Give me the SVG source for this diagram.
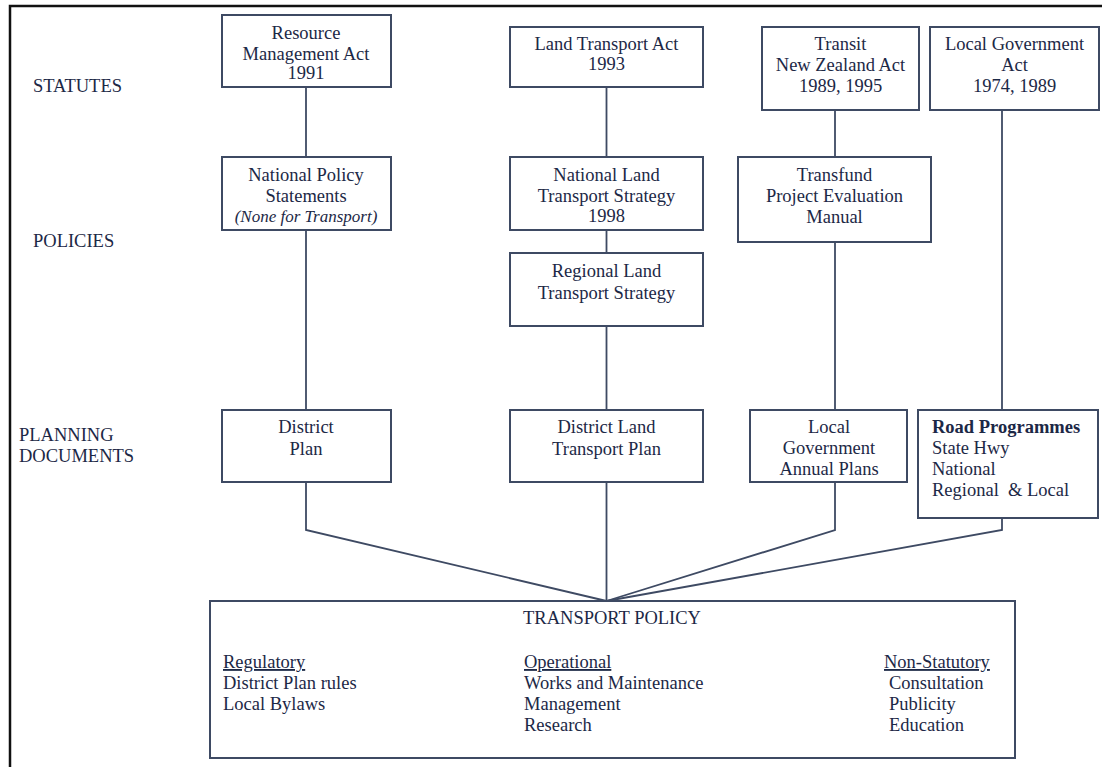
<svg xmlns="http://www.w3.org/2000/svg" width="1102" height="767" viewBox="0 0 1102 767">
  <style>
    .box { fill: #ffffff; stroke: #3e4a63; stroke-width: 2; }
    .wire { fill: none; stroke: #3e4a63; stroke-width: 1.8; }
    text { font-family: "Liberation Serif", "Times New Roman", serif; font-size: 18.5px; fill: #1c2846; }
    .c { text-anchor: middle; }
    .it { font-style: italic; font-size: 17px; }
    .b { font-weight: bold; }
    .u { text-decoration: underline; }
  </style>

  <rect x="0" y="0" width="1102" height="767" fill="#ffffff"/>
  <!-- page frame (top and left edges only) -->
  <path d="M10,767 V6 H1102" fill="none" stroke="#111111" stroke-width="2.5"/>

  <!-- row labels -->
  <g id="row-labels">
    <text x="33" y="92">STATUTES</text>
    <text x="33" y="247">POLICIES</text>
    <text x="19" y="441">PLANNING</text>
    <text x="19" y="462">DOCUMENTS</text>
  </g>

  <!-- connectors -->
  <g id="connectors">
    <line class="wire" x1="306" y1="87" x2="306" y2="157"/>
    <line class="wire" x1="306" y1="230" x2="306" y2="410"/>
    <line class="wire" x1="606.5" y1="87" x2="606.5" y2="157"/>
    <line class="wire" x1="606.5" y1="230" x2="606.5" y2="253"/>
    <line class="wire" x1="606.5" y1="326" x2="606.5" y2="410"/>
    <line class="wire" x1="835" y1="110" x2="835" y2="157"/>
    <line class="wire" x1="835" y1="242" x2="835" y2="410"/>
    <line class="wire" x1="1002" y1="110" x2="1002" y2="410"/>
    <polyline class="wire" points="306,482 306,530 606.5,601"/>
    <line class="wire" x1="606.5" y1="482" x2="606.5" y2="601"/>
    <polyline class="wire" points="835,482 835,530 606.5,601"/>
    <polyline class="wire" points="1002,518 1002,530 606.5,601"/>
  </g>

  <g id="rma">
    <rect class="box" x="222" y="15" width="169" height="72"/>
    <text class="c" x="306" y="39">Resource</text>
    <text class="c" x="306" y="60">Management Act</text>
    <text class="c" x="306" y="79">1991</text>
  </g>

  <g id="lta">
    <rect class="box" x="510" y="27" width="193" height="60"/>
    <text class="c" x="606.5" y="50">Land Transport Act</text>
    <text class="c" x="606.5" y="70">1993</text>
  </g>

  <g id="tnza">
    <rect class="box" x="762" y="27" width="157" height="83"/>
    <text class="c" x="840.5" y="50">Transit</text>
    <text class="c" x="840.5" y="71">New Zealand Act</text>
    <text class="c" x="840.5" y="92">1989, 1995</text>
  </g>

  <g id="lga">
    <rect class="box" x="930" y="27" width="169" height="83"/>
    <text class="c" x="1014.5" y="50">Local Government</text>
    <text class="c" x="1014.5" y="71">Act</text>
    <text class="c" x="1014.5" y="92">1974, 1989</text>
  </g>

  <g id="nps">
    <rect class="box" x="222" y="157" width="169" height="73"/>
    <text class="c" x="306" y="181">National Policy</text>
    <text class="c" x="306" y="202">Statements</text>
    <text class="c it" x="306" y="222">(None for Transport)</text>
  </g>

  <g id="nlts">
    <rect class="box" x="510" y="157" width="193" height="73"/>
    <text class="c" x="606.5" y="181">National Land</text>
    <text class="c" x="606.5" y="202">Transport Strategy</text>
    <text class="c" x="606.5" y="222">1998</text>
  </g>

  <g id="transfund">
    <rect class="box" x="738" y="157" width="193" height="85"/>
    <text class="c" x="834.5" y="181">Transfund</text>
    <text class="c" x="834.5" y="202">Project Evaluation</text>
    <text class="c" x="834.5" y="223">Manual</text>
  </g>

  <g id="rlts">
    <rect class="box" x="510" y="253" width="193" height="73"/>
    <text class="c" x="606.5" y="277">Regional Land</text>
    <text class="c" x="606.5" y="299">Transport Strategy</text>
  </g>

  <g id="district-plan">
    <rect class="box" x="222" y="410" width="169" height="72"/>
    <text class="c" x="306" y="433">District</text>
    <text class="c" x="306" y="455">Plan</text>
  </g>

  <g id="dltp">
    <rect class="box" x="510" y="410" width="193" height="72"/>
    <text class="c" x="606.5" y="433">District Land</text>
    <text class="c" x="606.5" y="455">Transport Plan</text>
  </g>

  <g id="lgap">
    <rect class="box" x="750" y="410" width="157" height="72"/>
    <text class="c" x="829" y="433">Local</text>
    <text class="c" x="829" y="454">Government</text>
    <text class="c" x="829" y="475">Annual Plans</text>
  </g>

  <g id="road-programmes">
    <rect class="box" x="918" y="410" width="180" height="108"/>
    <text class="b" x="932" y="433">Road Programmes</text>
    <text x="932" y="454">State Hwy</text>
    <text x="932" y="475">National</text>
    <text x="932" y="496" xml:space="preserve">Regional  &amp; Local</text>
  </g>

  <g id="transport-policy">
    <rect class="box" x="210" y="601" width="805" height="157"/>
    <text class="c" x="612" y="624">TRANSPORT POLICY</text>
    <text class="u" x="223" y="668">Regulatory</text>
    <text x="223" y="689">District Plan rules</text>
    <text x="223" y="710">Local Bylaws</text>
    <text class="u" x="524" y="668">Operational</text>
    <text x="524" y="689">Works and Maintenance</text>
    <text x="524" y="710">Management</text>
    <text x="524" y="731">Research</text>
    <text class="u" x="884" y="668">Non-Statutory</text>
    <text x="889" y="689">Consultation</text>
    <text x="889" y="710">Publicity</text>
    <text x="889" y="731">Education</text>
  </g>
</svg>
